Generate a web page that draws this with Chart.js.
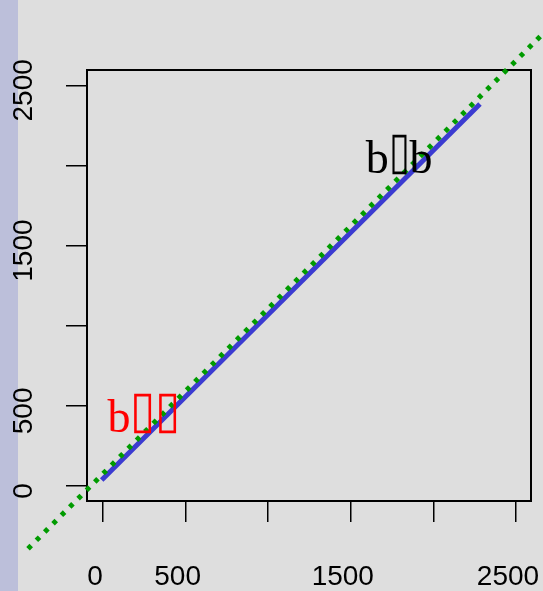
<!DOCTYPE html>
<html>
<head>
<meta charset="utf-8">
<script src="https://cdn.jsdelivr.net/npm/chart.js@4.4.0/dist/chart.umd.min.js"></script>
<style>
  html, body { margin: 0; padding: 0; background: #dedede; }
  #wrap { width: 543px; height: 591px; }
</style>
</head>
<body>
<div id="wrap"><canvas id="c" width="543" height="591"></canvas></div>
<script>
// ---- data ----
const xTicks = [0, 500, 1000, 1500, 2000, 2500];
const xTickLabels = ['0', '500', '', '1500', '', '2500'];
const yTicks = [0, 500, 1000, 1500, 2000, 2500];
const yTickLabels = ['0', '500', '', '1500', '', '2500'];
const fitX = [-8, 2282];
const fitY = [37, 2383];
const refX = [-454, 2700];
const refY = [-391, 2860];
const noteText = ['b\u25AFb', 'b\u25AF\u25AF'];
const noteX = [1793, 248];
const noteY = [1953, 339];

const xRange = [-97, 2591];
const yRange = [-93.5, 2595.5];

const toPts = (xs, ys) => xs.map((x, i) => ({ x: x, y: ys[i] }));

const noteStyle = [
  { color: '#000000', boxScaleX: 0.83 },
  { color: '#ff0000', boxScaleX: 1.0 }
];

const bgPlugin = {
  id: 'bg',
  beforeDraw(chart) {
    const ctx = chart.ctx;
    ctx.save();
    ctx.fillStyle = '#dedede';
    ctx.fillRect(0, 0, chart.width, chart.height);
    ctx.fillStyle = '#bcbfda';
    ctx.fillRect(0, 0, 18, chart.height);
    ctx.restore();
  },
  beforeDatasetsDraw(chart) {
    const a = chart.chartArea;
    const ctx = chart.ctx;
    ctx.save();
    ctx.strokeStyle = '#000';
    ctx.lineWidth = 2;
    ctx.strokeRect(a.left, a.top, a.right - a.left, a.bottom - a.top);
    ctx.restore();
  },
  afterDatasetsDraw(chart) {
    const ctx = chart.ctx;
    const xs = chart.scales.x, ys = chart.scales.y;
    ctx.save();
    ctx.font = '46px "Liberation Serif"';
    ctx.textAlign = 'left';
    ctx.textBaseline = 'alphabetic';
    noteText.forEach((t, i) => {
      const st = noteStyle[i];
      ctx.fillStyle = st.color;
      const chars = Array.from(t);
      const widths = chars.map(c => {
        const w = ctx.measureText(c).width;
        return c === '\u25AF' ? w * st.boxScaleX : w;
      });
      const total = widths.reduce((a, b) => a + b, 0);
      let x = xs.getPixelForValue(noteX[i]) - total / 2;
      const base = ys.getPixelForValue(noteY[i]);
      chars.forEach((c, k) => {
        if (c === '\u25AF') {
          ctx.save();
          ctx.translate(x, base - 5);
          ctx.scale(st.boxScaleX, 1.134);
          ctx.fillText(c, 0, 0);
          ctx.restore();
        } else {
          ctx.fillText(c, x, base);
        }
        x += widths[k];
      });
    });
    ctx.restore();
  }
};

const tickFont = { family: '"Liberation Sans", Arial, sans-serif', size: 28 };

new Chart(document.getElementById('c'), {
  type: 'line',
  data: {
    datasets: [
      {
        data: toPts(refX, refY),
        borderColor: '#009b00',
        borderWidth: 5,
        borderDash: [4.5, 7.3],
        pointRadius: 0,
        clip: false,
        order: 0
      },
      {
        data: toPts(fitX, fitY),
        borderColor: '#3b3bd1',
        borderWidth: 5,
        pointRadius: 0,
        order: 1
      }
    ]
  },
  options: {
    responsive: false,
    animation: false,
    events: [],
    layout: { padding: { top: 70, right: 12, left: 0, bottom: 0 } },
    plugins: { legend: { display: false }, tooltip: { enabled: false } },
    scales: {
      x: {
        type: 'linear',
        min: xRange[0], max: xRange[1],
        afterBuildTicks: s => { s.ticks = xTicks.map(v => ({ value: v })); },
        afterFit: s => { s.height = 90; s.paddingLeft = 0; s.paddingRight = 0; },
        border: { display: false },
        grid: { drawOnChartArea: false, drawTicks: true, tickLength: 21, color: '#000', lineWidth: 1.5 },
        ticks: {
          font: tickFont, color: '#000', padding: 38, labelOffset: -8,
          autoSkip: false, maxRotation: 0, minRotation: 0,
          callback: (v) => { const i = xTicks.indexOf(v); return i >= 0 ? xTickLabels[i] : ''; }
        }
      },
      y: {
        type: 'linear',
        min: yRange[0], max: yRange[1],
        afterBuildTicks: s => { s.ticks = yTicks.map(v => ({ value: v })); },
        afterFit: s => { s.width = 87; s.paddingTop = 0; s.paddingBottom = 0; },
        border: { display: false },
        grid: { drawOnChartArea: false, drawTicks: true, tickLength: 21, color: '#000', lineWidth: 1.5 },
        ticks: {
          font: tickFont, color: '#000', padding: 11, labelOffset: 5,
          autoSkip: false, minRotation: 90, maxRotation: 90, crossAlign: 'center',
          callback: (v) => { const i = yTicks.indexOf(v); return i >= 0 ? yTickLabels[i] : ''; }
        }
      }
    }
  },
  plugins: [bgPlugin]
});
</script>
</body>
</html>
